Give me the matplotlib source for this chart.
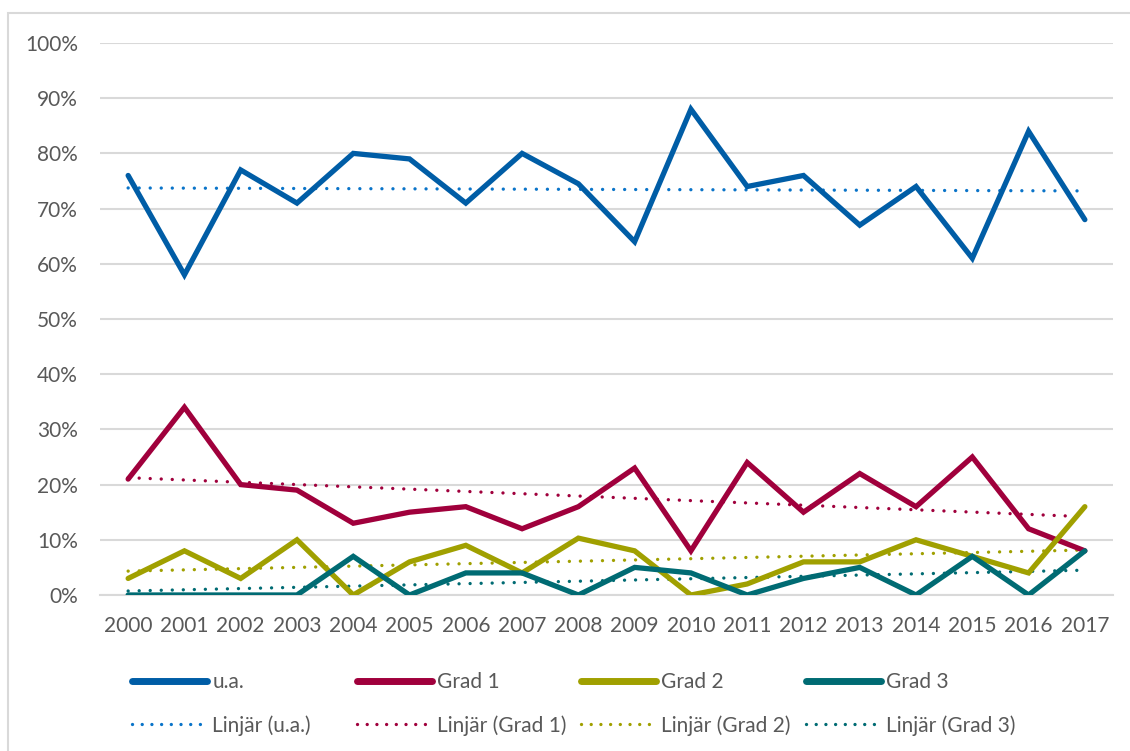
import numpy as np
import matplotlib
matplotlib.use('Agg')
import matplotlib.pyplot as plt
from matplotlib.patches import Rectangle
from matplotlib.lines import Line2D

plt.rcParams['font.family'] = ['Lato', 'DejaVu Sans']

# Data (percent)
years = [str(y) for y in range(2000, 2018)]
ua = [76, 58, 77, 71, 80, 79, 71, 80, 74.5, 64, 88, 74, 76, 67, 74, 61, 84, 68]
grad1 = [21, 34, 20, 19, 13, 15, 16, 12, 16, 23, 8, 24, 15, 22, 16, 25, 12, 8]
grad2 = [3, 8, 3, 10, 0, 6, 9, 4, 10.3, 8, 0, 2, 6, 6, 10, 7, 4, 16]
grad3 = [0, 0, 0, 0, 7, 0, 4, 4, 0, 5, 4, 0, 3, 5, 0, 7, 0, 8]

names = ['u.a.', 'Grad 1', 'Grad 2', 'Grad 3']
series = [ua, grad1, grad2, grad3]
colors = ['#005DA6', '#A0003C', '#A0A000', '#006B73']
trend_colors = ['#0A74C9', '#A0003C', '#A0A000', '#006B73']
yticks = [0, 10, 20, 30, 40, 50, 60, 70, 80, 90, 100]

W, H = 1130, 751
fig = plt.figure(figsize=(W / 100, H / 100), dpi=100)
ax = fig.add_axes([100 / W, 1 - 595 / H, (1113 - 100) / W, (595 - 43) / H])

# outer chart frame
fig.patches.append(Rectangle((8 / W, -0.05), 1.2, 1 - 13 / H + 0.05, transform=fig.transFigure,
                             fill=False, edgecolor='#D9D9D9', linewidth=1.5))

x = np.arange(len(years))
handles = []
for vals, name, c, tc in zip(series, names, colors, trend_colors):
    h, = ax.plot(x, vals, color=c, linewidth=3.8, solid_capstyle='round',
                 solid_joinstyle='miter', label=name, zorder=3)
    # linear trend line, as in the spreadsheet
    k, m = np.polyfit(x, vals, 1)
    t, = ax.plot(x, k * x + m, color=tc, linewidth=2.4, linestyle=(0, (0.01, 3.3)),
                 dash_capstyle='round', label='Linjär (' + name + ')', zorder=2)
    handles.append((h, t))

ax.set_xlim(-0.5, 17.5)
ax.set_ylim(0, 100)
ax.set_yticks(yticks)
ax.set_yticklabels([f'{v}%' for v in yticks])
ax.set_xticks(x)
ax.set_xticklabels(years)
ax.grid(axis='y', color='#D9D9D9', linewidth=1.5)
ax.set_axisbelow(True)
for s in ['top', 'right', 'left']:
    ax.spines[s].set_visible(False)
ax.spines['bottom'].set_color('#D9D9D9')
ax.spines['bottom'].set_linewidth(1.5)
ax.tick_params(length=0, labelsize=15, colors='#595959')
ax.tick_params(axis='y', pad=16)
ax.tick_params(axis='x', pad=15)

# legend: four columns, two rows
col_x = [132, 357, 581, 806]
for (h, t), cx in zip(handles, col_x):
    hh = Line2D([], [], color=h.get_color(), linewidth=5, solid_capstyle='round')
    tt = Line2D([], [], color=t.get_color(), linewidth=2.4, linestyle=(0, (0.01, 2.9)),
                dash_capstyle='round')
    leg = fig.legend([hh, tt], [h.get_label(), t.get_label()], loc='upper left',
                     bbox_to_anchor=(cx / W, 1 - 672 / H), frameon=False, fontsize=15,
                     handlelength=3.6, handletextpad=0.25, labelspacing=1.1,
                     borderaxespad=0, borderpad=0)
    for txt in leg.get_texts():
        txt.set_color('#595959')

fig.savefig('out.png', dpi=100)
